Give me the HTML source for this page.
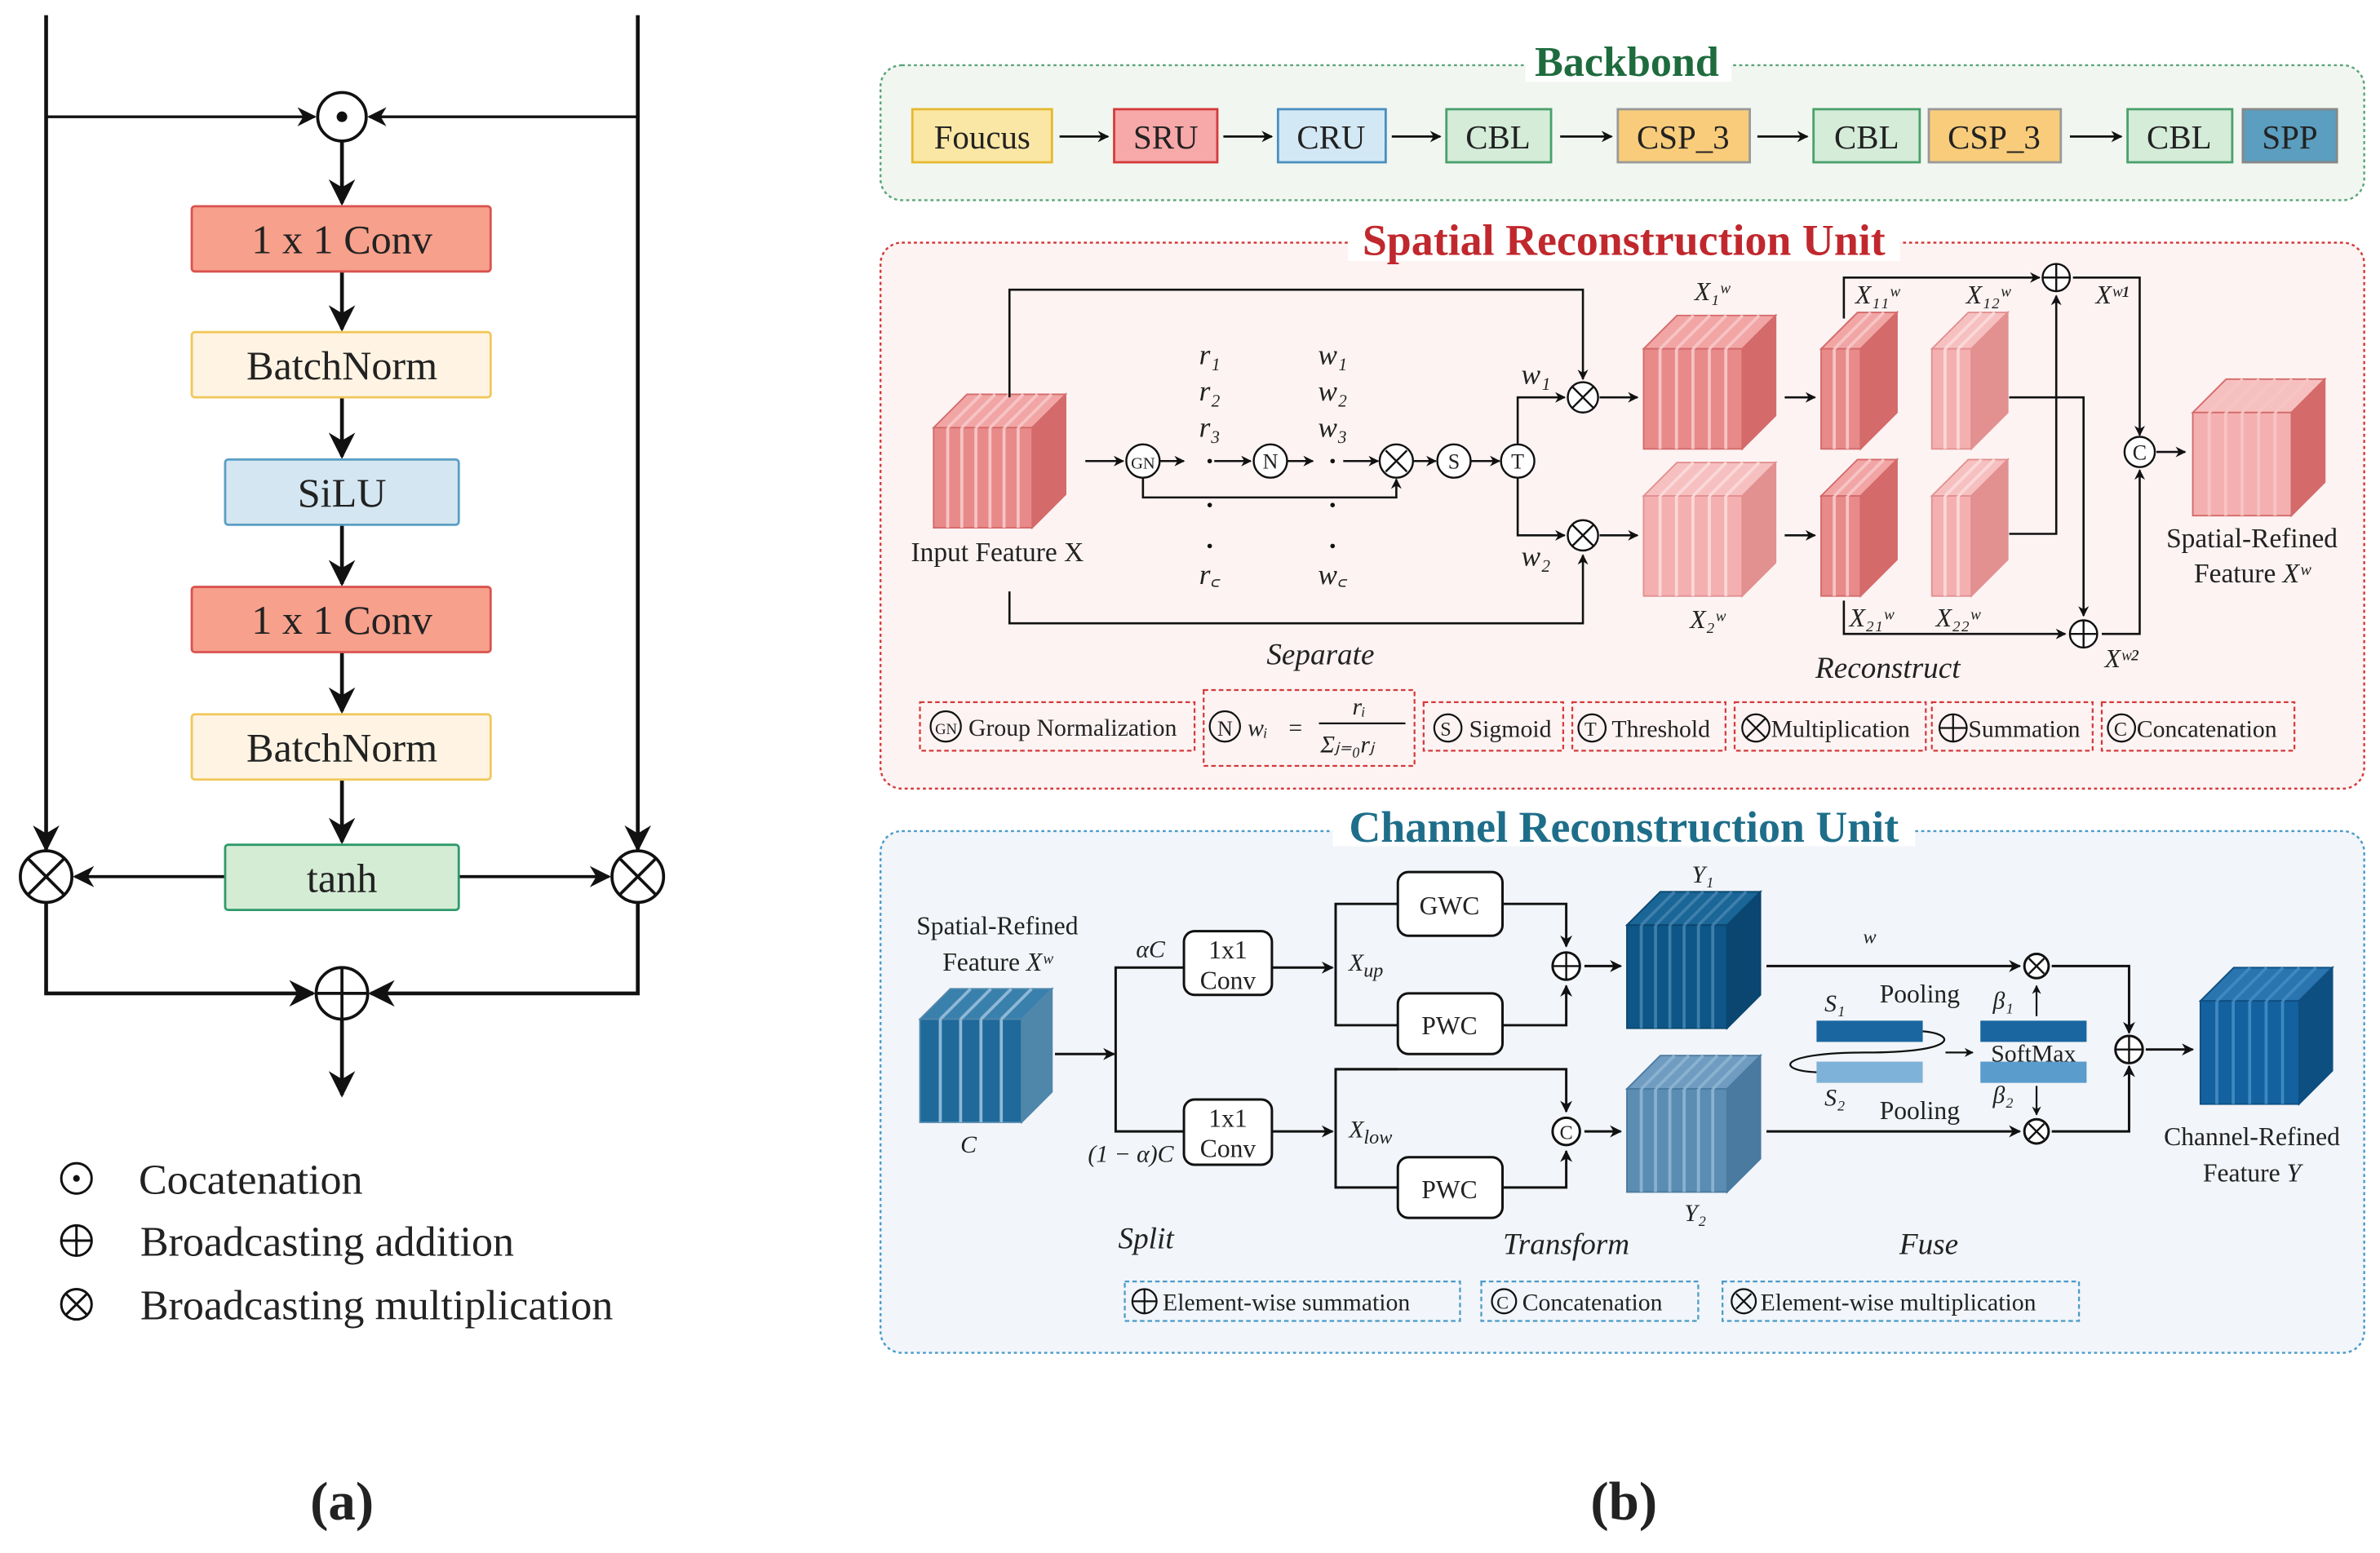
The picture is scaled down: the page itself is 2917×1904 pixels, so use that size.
<!DOCTYPE html>
<html><head><meta charset="utf-8"><style>
html,body{margin:0;padding:0;background:#fff}
svg{display:block}
text{font-family:"Liberation Serif",serif;fill:#222}
.it{font-style:italic}
</style></head><body>
<svg id="s" width="2917" height="1904" viewBox="0 0 1568 1024" xmlns="http://www.w3.org/2000/svg">
<defs>
<marker id="a" viewBox="0 0 10 10" refX="9" refY="5" markerWidth="5" markerHeight="5" orient="auto"><path d="M0,0L10,5L0,10L3,5z" fill="#111"/></marker>
<marker id="b" viewBox="0 0 10 10" refX="9" refY="5" markerWidth="7" markerHeight="7" orient="auto"><path d="M0,0L10,5L0,10L3,5z" fill="#111"/></marker>
</defs>
<rect width="1568" height="1024" fill="#fff"/>

<!-- ===== Panel (a) ===== -->
<g stroke="#111" stroke-width="2.5" fill="none">
<line x1="30" y1="10" x2="30" y2="560" marker-end="url(#b)"/>
<line x1="420" y1="10" x2="420" y2="560" marker-end="url(#b)"/>
<line x1="30" y1="77" x2="207" y2="77" stroke-width="1.8" marker-end="url(#b)"/>
<line x1="420" y1="77" x2="243" y2="77" stroke-width="1.8" marker-end="url(#b)"/>
<circle cx="225" cy="77" r="16" stroke-width="2"/>
<line x1="225" y1="93" x2="225" y2="134" marker-end="url(#b)"/>
<line x1="225" y1="179" x2="225" y2="217" marker-end="url(#b)"/>
<line x1="225" y1="262" x2="225" y2="301" marker-end="url(#b)"/>
<line x1="225" y1="346" x2="225" y2="385" marker-end="url(#b)"/>
<line x1="225" y1="430" x2="225" y2="469" marker-end="url(#b)"/>
<line x1="225" y1="514" x2="225" y2="555" marker-end="url(#b)"/>
<line x1="148" y1="578" x2="49" y2="578" stroke-width="2" marker-end="url(#b)"/>
<line x1="302" y1="578" x2="401" y2="578" stroke-width="2" marker-end="url(#b)"/>
<circle cx="30" cy="578" r="17" stroke-width="2"/>
<circle cx="420" cy="578" r="17" stroke-width="2"/>
<path d="M18,566L42,590M42,566L18,590M408,566L432,590M432,566L408,590" stroke-width="2"/>
<polyline points="30,595 30,655 206,655" marker-end="url(#b)"/>
<polyline points="420,595 420,655 244,655" marker-end="url(#b)"/>
<circle cx="225" cy="655" r="17" stroke-width="2"/>
<path d="M208,655H242M225,638V672" stroke-width="2"/>
<line x1="225" y1="672" x2="225" y2="722" marker-end="url(#b)"/>
</g>
<circle cx="225" cy="77" r="3.5" fill="#111"/>
<g font-size="27" text-anchor="middle">
<rect x="126" y="136" width="197" height="43" rx="2" fill="#f7a08c" stroke="#d9534f" stroke-width="1.5"/><text x="225" y="167">1 x 1 Conv</text>
<rect x="126" y="219" width="197" height="43" rx="2" fill="#fff4e3" stroke="#f0c75a" stroke-width="1.5"/><text x="225" y="250">BatchNorm</text>
<rect x="148" y="303" width="154" height="43" rx="2" fill="#d4e6f1" stroke="#5a9ec4" stroke-width="1.5"/><text x="225" y="334">SiLU</text>
<rect x="126" y="387" width="197" height="43" rx="2" fill="#f7a08c" stroke="#d9534f" stroke-width="1.5"/><text x="225" y="418">1 x 1 Conv</text>
<rect x="126" y="471" width="197" height="43" rx="2" fill="#fff4e3" stroke="#f0c75a" stroke-width="1.5"/><text x="225" y="502">BatchNorm</text>
<rect x="148" y="557" width="154" height="43" rx="2" fill="#d4ebd4" stroke="#2e9a6b" stroke-width="1.5"/><text x="225" y="588">tanh</text>
</g>
<g stroke="#111" stroke-width="1.6" fill="none">
<circle cx="50" cy="777" r="10"/><circle cx="50" cy="818" r="10"/><path d="M40,818H60M50,808V828"/>
<circle cx="50" cy="860" r="10"/><path d="M43,853L57,867M57,853L43,867"/>
</g>
<circle cx="50" cy="777" r="2.2" fill="#111"/>
<g font-size="28"><text x="91" y="787">Cocatenation</text><text x="92" y="828">Broadcasting addition</text><text x="92" y="870">Broadcasting multiplication</text></g>
<text x="225" y="1002" font-size="36" font-weight="bold" text-anchor="middle">(a)</text>
<text x="1070" y="1002" font-size="36" font-weight="bold" text-anchor="middle">(b)</text>

<!-- ===== Backbone ===== -->
<rect x="580" y="43" width="978" height="89" rx="14" fill="#f1f6f0" stroke="#5aa57a" stroke-width="1.3" stroke-dasharray="2,2"/>
<rect x="1005" y="34" width="136" height="20" fill="#fff"/>
<text x="1072" y="50" font-size="28" font-weight="bold" text-anchor="middle" style="fill:#1e6b3e">Backbond</text>
<g font-size="22" text-anchor="middle">
<rect x="601" y="72" width="92" height="35" fill="#fbe7a5" stroke="#e6b830" stroke-width="1.5"/><text x="647" y="98">Foucus</text>
<rect x="734" y="72" width="68" height="35" fill="#f7a8a8" stroke="#d43a3a" stroke-width="1.5"/><text x="768" y="98">SRU</text>
<rect x="842" y="72" width="71" height="35" fill="#d3e8f5" stroke="#4a8fc0" stroke-width="1.5"/><text x="877" y="98">CRU</text>
<rect x="953" y="72" width="69" height="35" fill="#d4ecd8" stroke="#4aa06b" stroke-width="1.5"/><text x="987" y="98">CBL</text>
<rect x="1066" y="72" width="87" height="35" fill="#f8cc7a" stroke="#999" stroke-width="1.5"/><text x="1109" y="98">CSP_3</text>
<rect x="1195" y="72" width="70" height="35" fill="#d4ecd8" stroke="#4aa06b" stroke-width="1.5"/><text x="1230" y="98">CBL</text>
<rect x="1271" y="72" width="87" height="35" fill="#f8cc7a" stroke="#999" stroke-width="1.5"/><text x="1314" y="98">CSP_3</text>
<rect x="1402" y="72" width="69" height="35" fill="#d4ecd8" stroke="#4aa06b" stroke-width="1.5"/><text x="1436" y="98">CBL</text>
<rect x="1478" y="72" width="62" height="35" fill="#5b9ebf" stroke="#888" stroke-width="1.5"/><text x="1509" y="98">SPP</text>
</g>
<g stroke="#111" stroke-width="1.5" marker-end="url(#a)">
<line x1="698" y1="90" x2="730" y2="90"/><line x1="806" y1="90" x2="838" y2="90"/><line x1="917" y1="90" x2="949" y2="90"/>
<line x1="1028" y1="90" x2="1062" y2="90"/><line x1="1158" y1="90" x2="1191" y2="90"/><line x1="1364" y1="90" x2="1398" y2="90"/>
</g>

<!-- ===== SRU ===== -->
<rect x="580" y="160" width="978" height="360" rx="14" fill="#fdf3f3" stroke="#d43a3a" stroke-width="1.3" stroke-dasharray="2,2"/>
<rect x="888" y="148" width="364" height="24" fill="#fff"/>
<text x="1070" y="168" font-size="29" font-weight="bold" text-anchor="middle" style="fill:#c0282d">Spatial Reconstruction Unit</text>
<g id="cubes"></g>
<g stroke="#111" stroke-width="1.4" fill="none">
<polyline points="665,262 665,191 1043,191 1043,250" marker-end="url(#a)"/>
<polyline points="665,390 665,411 1043,411 1043,366" marker-end="url(#a)"/>
<line x1="715" y1="304" x2="740" y2="304" marker-end="url(#a)"/>
<line x1="764" y1="304" x2="780" y2="304" marker-end="url(#a)"/>
<line x1="800" y1="304" x2="824" y2="304" marker-end="url(#a)"/>
<line x1="848" y1="304" x2="865" y2="304" marker-end="url(#a)"/>
<line x1="885" y1="304" x2="908" y2="304" marker-end="url(#a)"/>
<line x1="931" y1="304" x2="946" y2="304" marker-end="url(#a)"/>
<line x1="969" y1="304" x2="988" y2="304" marker-end="url(#a)"/>
<polyline points="753,315 753,328 920,328 920,316" marker-end="url(#a)"/>
<polyline points="1000,293 1000,262 1031,262" marker-end="url(#a)"/>
<polyline points="1000,315 1000,353 1031,353" marker-end="url(#a)"/>
<line x1="1054" y1="262" x2="1079" y2="262" marker-end="url(#a)"/>
<line x1="1054" y1="353" x2="1079" y2="353" marker-end="url(#a)"/>
<line x1="1176" y1="262" x2="1196" y2="262" marker-end="url(#a)"/>
<line x1="1176" y1="353" x2="1196" y2="353" marker-end="url(#a)"/>
<polyline points="1215,210 1215,183 1344,183" marker-end="url(#a)"/>
<polyline points="1215,396 1215,418 1361,418" marker-end="url(#a)"/>
<polyline points="1324,262 1373,262 1373,406" marker-end="url(#a)"/>
<polyline points="1324,352 1355,352 1355,195" marker-end="url(#a)"/>
<polyline points="1366,183 1410,183 1410,287" marker-end="url(#a)"/>
<polyline points="1385,418 1410,418 1410,310" marker-end="url(#a)"/>
<line x1="1421" y1="298" x2="1440" y2="298" marker-end="url(#a)"/>
</g>
<g stroke="#111" stroke-width="1.3" fill="#fff">
<circle cx="753" cy="304" r="11"/><circle cx="837" cy="304" r="11"/><circle cx="920" cy="304" r="11"/>
<circle cx="958" cy="304" r="11"/><circle cx="1000" cy="304" r="11"/>
<circle cx="1043" cy="262" r="10"/><circle cx="1043" cy="353" r="10"/>
<circle cx="1355" cy="183" r="9"/><circle cx="1373" cy="418" r="9"/><circle cx="1410" cy="298" r="10"/>
<path d="M913,297L927,311M927,297L913,311M1036,255L1050,269M1050,255L1036,269M1036,346L1050,360M1050,346L1036,360M1346,183H1364M1355,174V192M1364,418H1382M1373,409V427" fill="none"/>
</g>
<g font-size="14" text-anchor="middle">
<text x="753" y="309" font-size="11">GN</text><text x="837" y="309">N</text><text x="958" y="309">S</text><text x="1000" y="309">T</text><text x="1410" y="303">C</text>
</g>
<g fill="#111"><circle cx="797" cy="304" r="1.5"/><circle cx="878" cy="304" r="1.5"/><circle cx="797" cy="333" r="1.5"/><circle cx="878" cy="333" r="1.5"/><circle cx="797" cy="360" r="1.5"/><circle cx="878" cy="360" r="1.5"/></g>
<g font-size="19" class="it" text-anchor="middle">
<text x="797" y="240" class="it">r₁</text><text x="797" y="264" class="it">r₂</text><text x="797" y="288" class="it">r₃</text><text x="797" y="385" class="it">r꜀</text>
<text x="878" y="240" class="it">w₁</text><text x="878" y="264" class="it">w₂</text><text x="878" y="288" class="it">w₃</text><text x="878" y="385" class="it">w꜀</text>
<text x="1012" y="253" class="it">w₁</text><text x="1012" y="373" class="it">w₂</text>
</g>
<g font-size="17" class="it" text-anchor="middle">
<text x="1128" y="198" class="it">X₁ʷ</text><text x="1125" y="414" class="it">X₂ʷ</text>
<text x="1237" y="200" class="it">X₁₁ʷ</text><text x="1310" y="200" class="it">X₁₂ʷ</text>
<text x="1233" y="413" class="it">X₂₁ʷ</text><text x="1290" y="413" class="it">X₂₂ʷ</text>
<text x="1392" y="200" class="it">Xʷ¹</text><text x="1398" y="440" class="it">Xʷ²</text>
</g>
<g font-size="18" text-anchor="middle">
<text x="657" y="370">Input Feature X</text>
<text x="1484" y="361">Spatial-Refined</text><text x="1484" y="384">Feature <tspan class="it">Xʷ</tspan></text>
<text x="870" y="438" class="it" font-size="20">Separate</text><text x="1244" y="447" class="it" font-size="20">Reconstruct</text>
</g>
<g fill="none" stroke="#d43a3a" stroke-width="1.2" stroke-dasharray="3,2">
<rect x="606" y="463" width="181" height="32"/><rect x="793" y="455" width="139" height="50"/><rect x="938" y="463" width="92" height="32"/>
<rect x="1036" y="463" width="101" height="32"/><rect x="1143" y="463" width="126" height="32"/><rect x="1273" y="463" width="106" height="32"/><rect x="1385" y="463" width="127" height="32"/>
</g>
<g stroke="#111" stroke-width="1.2" fill="none">
<circle cx="623" cy="479" r="10"/><circle cx="807" cy="479" r="10"/><circle cx="954" cy="480" r="9"/><circle cx="1049" cy="480" r="9"/>
<circle cx="1157" cy="480" r="9"/><path d="M1151,474L1163,486M1163,474L1151,486"/>
<circle cx="1287" cy="480" r="9"/><path d="M1278,480H1296M1287,471V489"/><circle cx="1398" cy="480" r="9"/>
<line x1="869" y1="477" x2="926" y2="477"/>
</g>
<g font-size="16">
<text x="616" y="484" font-size="10">GN</text><text x="638" y="485">Group Normalization</text>
<text x="802" y="485" font-size="14">N</text><text x="822" y="485" class="it">wᵢ</text><text x="849" y="485">=</text>
<text x="891" y="471" class="it">rᵢ</text><text x="870" y="496" class="it">Σⱼ₌₀rⱼ</text>
<text x="949" y="485" font-size="13">S</text><text x="968" y="486">Sigmoid</text>
<text x="1044" y="485" font-size="13">T</text><text x="1062" y="486">Threshold</text>
<text x="1167" y="486">Multiplication</text><text x="1297" y="486">Summation</text>
<text x="1393" y="485" font-size="13">C</text><text x="1408" y="486">Concatenation</text>
</g>

<!-- ===== CRU ===== -->
<rect x="580" y="548" width="978" height="344" rx="14" fill="#f2f5f9" stroke="#4a9bc9" stroke-width="1.3" stroke-dasharray="2,2"/>
<rect x="878" y="532" width="384" height="26" fill="#fff"/>
<text x="1070" y="555" font-size="29" font-weight="bold" text-anchor="middle" style="fill:#1e6e8a">Channel Reconstruction Unit</text>
<g id="cubes2"></g>
<g stroke="#111" stroke-width="1.6" fill="none">
<line x1="695" y1="695" x2="734" y2="695" marker-end="url(#a)"/>
<polyline points="780,638 735,638 735,746 780,746"/>
<line x1="838" y1="638" x2="878" y2="638" marker-end="url(#a)"/>
<line x1="838" y1="746" x2="878" y2="746" marker-end="url(#a)"/>
<polyline points="921,596 880,596 880,676 921,676"/>
<polyline points="921,705 880,705 880,783 921,783"/>
<polyline points="990,596 1032,596 1032,624" marker-end="url(#a)"/>
<polyline points="990,676 1032,676 1032,650" marker-end="url(#a)"/>
<polyline points="880,705 1032,705 1032,733" marker-end="url(#a)"/>
<polyline points="990,783 1032,783 1032,759" marker-end="url(#a)"/>
<line x1="1044" y1="637" x2="1068" y2="637" marker-end="url(#a)"/>
<line x1="1044" y1="746" x2="1068" y2="746" marker-end="url(#a)"/>
<line x1="1164" y1="637" x2="1331" y2="637" marker-end="url(#a)"/>
<line x1="1164" y1="746" x2="1331" y2="746" marker-end="url(#a)"/>
<polyline points="1352,637 1403,637 1403,681" marker-end="url(#a)"/>
<polyline points="1352,746 1403,746 1403,703" marker-end="url(#a)"/>
<line x1="1414" y1="692" x2="1445" y2="692" marker-end="url(#a)"/>
<line x1="1342" y1="670" x2="1342" y2="650" marker-end="url(#a)" stroke-width="1.2"/>
<line x1="1342" y1="716" x2="1342" y2="735" marker-end="url(#a)" stroke-width="1.2"/>
<path d="M1267,680C1290,682 1290,694 1230,694C1170,694 1170,706 1197,707" stroke-width="1.2"/>
<line x1="1282" y1="694" x2="1300" y2="694" marker-end="url(#a)" stroke-width="1.2"/>
</g>
<g fill="#fff" stroke="#111" stroke-width="1.6">
<rect x="780" y="614" width="58" height="42" rx="7"/><rect x="780" y="725" width="58" height="43" rx="7"/>
<rect x="921" y="575" width="69" height="42" rx="7"/><rect x="921" y="655" width="69" height="40" rx="7"/><rect x="921" y="763" width="69" height="40" rx="7"/>
<circle cx="1032" cy="637" r="9"/><circle cx="1032" cy="746" r="9"/><circle cx="1342" cy="637" r="8"/><circle cx="1342" cy="746" r="8"/><circle cx="1403" cy="692" r="9"/>
</g>
<g stroke="#111" stroke-width="1.3" fill="none"><path d="M1023,637H1041M1032,628V646M1394,692H1412M1403,683V701M1337,632L1347,642M1347,632L1337,642M1337,741L1347,751M1347,741L1337,751"/></g>
<g>
<rect x="1197" y="673" width="70" height="14" fill="#1a66a0"/><rect x="1197" y="700" width="70" height="14" fill="#7fb2d8"/>
<rect x="1305" y="673" width="70" height="14" fill="#1a66a0"/><rect x="1305" y="700" width="70" height="14" fill="#5a9ccc"/>
</g>
<g font-size="17" text-anchor="middle">
<text x="809" y="632">1x1</text><text x="809" y="652">Conv</text><text x="809" y="743">1x1</text><text x="809" y="763">Conv</text>
<text x="955" y="603">GWC</text><text x="955" y="682">PWC</text><text x="955" y="790">PWC</text>
<text x="1032" y="751" font-size="13">C</text>
<text x="1340" y="700" font-size="16">SoftMax</text>
<text x="1265" y="661">Pooling</text><text x="1265" y="738">Pooling</text>
<text x="657" y="616">Spatial-Refined</text><text x="657" y="640">Feature <tspan class="it">Xʷ</tspan></text>
<text x="1484" y="755">Channel-Refined</text><text x="1484" y="779">Feature <tspan class="it">Y</tspan></text>
</g>
<g font-size="16" class="it" text-anchor="middle">
<text x="638" y="760" class="it">C</text><text x="758" y="631" class="it">αC</text><text x="745" y="766" class="it">(1 − α)C</text>
<text x="900" y="640" class="it">X<tspan font-size="13" dy="4">up</tspan></text><text x="903" y="750" class="it">X<tspan font-size="13" dy="4">low</tspan></text>
<text x="1122" y="582" class="it">Y₁</text><text x="1117" y="805" class="it">Y₂</text><text x="1232" y="622" class="it" font-size="13">w</text>
<text x="1209" y="667" class="it">S₁</text><text x="1209" y="729" class="it">S₂</text><text x="1320" y="665" class="it">β₁</text><text x="1320" y="727" class="it">β₂</text>
<text x="755" y="823" class="it" font-size="20">Split</text><text x="1032" y="827" class="it" font-size="20">Transform</text><text x="1271" y="827" class="it" font-size="20">Fuse</text>
</g>
<g fill="none" stroke="#4a9bc9" stroke-width="1.2" stroke-dasharray="3,2">
<rect x="741" y="845" width="221" height="26"/><rect x="976" y="845" width="143" height="26"/><rect x="1135" y="845" width="235" height="26"/>
</g>
<g stroke="#111" stroke-width="1.2" fill="none">
<circle cx="754" cy="858" r="8"/><path d="M746,858H762M754,850V866"/><circle cx="991" cy="858" r="8"/>
<circle cx="1149" cy="858" r="8"/><path d="M1144,853L1154,863M1154,853L1144,863"/>
</g>
<g font-size="16"><text x="766" y="864">Element-wise summation</text><text x="986" y="863" font-size="12">C</text><text x="1003" y="864">Concatenation</text><text x="1160" y="864">Element-wise multiplication</text></g>
</svg>
<script>
function cube(g,x,y,w,h,d,front,top,side,stripe,n){
 var s="";
 s+='<polygon points="'+x+','+y+' '+(x+d)+','+(y-d)+' '+(x+w+d)+','+(y-d)+' '+(x+w)+','+y+'" fill="'+top+'" stroke="'+side+'" stroke-width="1"/>';
 s+='<polygon points="'+(x+w)+','+y+' '+(x+w+d)+','+(y-d)+' '+(x+w+d)+','+(y+h-d)+' '+(x+w)+','+(y+h)+'" fill="'+side+'" stroke="'+side+'" stroke-width="1"/>';
 s+='<rect x="'+x+'" y="'+y+'" width="'+w+'" height="'+h+'" fill="'+front+'" stroke="'+side+'" stroke-width="1"/>';
 for(var i=1;i<n;i++){var xx=x+w*i/n;s+='<line x1="'+xx+'" y1="'+y+'" x2="'+xx+'" y2="'+(y+h)+'" stroke="'+stripe+'" stroke-width="2"/>';
  s+='<line x1="'+xx+'" y1="'+y+'" x2="'+(xx+d)+'" y2="'+(y-d)+'" stroke="'+stripe+'" stroke-width="2"/>';}
 document.getElementById(g).insertAdjacentHTML('beforeend',s);
}
var R=['#e88a8a','#f2a5a5','#d46a6a','#f7c4c4'], R2=['#f4b0b0','#f7c0c0','#e29090','#fbd8d8'];
cube('cubes',615,282,65,66,22,R[0],R[1],R[2],R[3],7);
cube('cubes',1083,230,65,66,22,R[0],R[1],R[2],R[3],6);
cube('cubes',1083,327,65,66,22,R2[0],R2[1],R2[2],R2[3],6);
cube('cubes',1200,230,26,66,24,R[0],R[1],R[2],R[3],3);
cube('cubes',1273,230,26,66,24,R2[0],R2[1],R2[2],R2[3],3);
cube('cubes',1200,327,26,66,24,R[0],R[1],R[2],R[3],3);
cube('cubes',1273,327,26,66,24,R2[0],R2[1],R2[2],R2[3],3);
cube('cubes',1445,272,65,68,22,R2[0],R2[1],R[2],R[3],6);
cube('cubes2',606,672,67,68,20,'#1f6a9a','#3a80ad','#4f87ab','#8fb8d6',5);
cube('cubes2',1072,610,66,68,22,'#0d5687','#1a6696','#0a4670','#3f7fab',7);
cube('cubes2',1072,718,66,68,22,'#5b8db3','#6f9cc0','#4a7aa0','#8ab2d0',7);
cube('cubes2',1450,660,65,68,22,'#1461a0','#2a74b0','#0e4f82','#3f88c0',6);
</script>
</body></html>
